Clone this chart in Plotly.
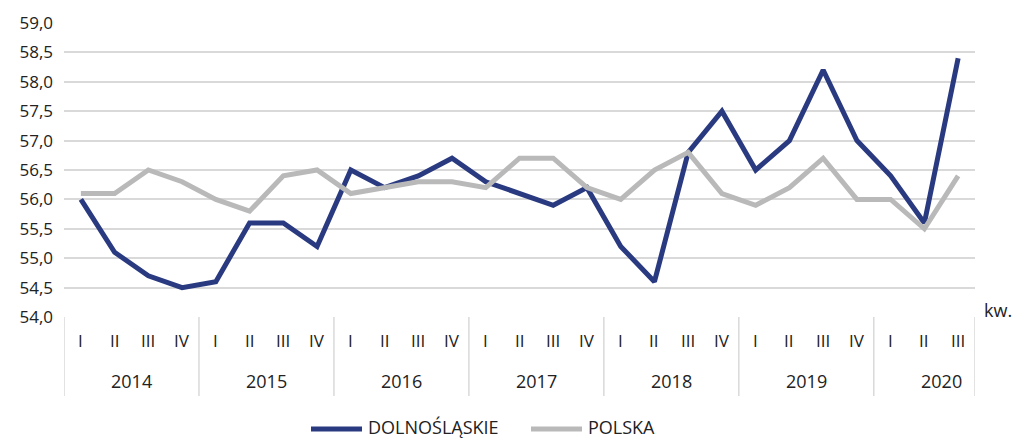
import plotly.graph_objects as go

years = ["2014", "2015", "2016", "2017", "2018", "2019", "2020"]
quarters = ["I", "II", "III", "IV"]
n_quarters = [4, 4, 4, 4, 4, 4, 3]

series_names = ["DOLNOŚLĄSKIE", "POLSKA"]
dolnoslaskie = [56.0, 55.1, 54.7, 54.5,
                54.6, 55.6, 55.6, 55.2,
                56.5, 56.2, 56.4, 56.7,
                56.3, 56.1, 55.9, 56.2,
                55.2, 54.6, 56.8, 57.5,
                56.5, 57.0, 58.2, 57.0,
                56.4, 55.6, 58.4]
polska = [56.1, 56.1, 56.5, 56.3,
          56.0, 55.8, 56.4, 56.5,
          56.1, 56.2, 56.3, 56.3,
          56.2, 56.7, 56.7, 56.2,
          56.0, 56.5, 56.8, 56.1,
          55.9, 56.2, 56.7, 56.0,
          56.0, 55.5, 56.4]

quarter_labels = []
for y, n in zip(years, n_quarters):
    quarter_labels += quarters[:n]
x = list(range(len(quarter_labels)))

FONT = "Open Sans"
TXT = "#222222"
NAVY = "#2a3a80"
GREY = "#b9b9b9"
LINEC = "#d9d9d9"

W, H = 1016, 439
ML, MR, MT, MB = 64, 41, 23, 122
PW, PH = W - ML - MR, H - MT - MB


def px2paper_x(px):
    return (px - ML) / PW


def px2paper_y(py):
    return (H - MB - py) / PH


fig = go.Figure()
fig.add_trace(go.Scatter(x=x, y=dolnoslaskie, mode="lines", name=series_names[0],
                         line=dict(color=NAVY, width=5), showlegend=False))
fig.add_trace(go.Scatter(x=x, y=polska, mode="lines", name=series_names[1],
                         line=dict(color=GREY, width=5), showlegend=False))

annotations = []
shapes = []
for i, q in enumerate(quarter_labels):
    annotations.append(dict(x=i, y=px2paper_y(340), xref="x", yref="paper", text=q,
                            showarrow=False, font=dict(family=FONT, size=17, color=TXT),
                            xanchor="center", yanchor="middle"))
start = 0
bounds = [-0.5]
for y, n in zip(years, n_quarters):
    center = start + (4 - 1) / 2
    annotations.append(dict(x=center, y=px2paper_y(381), xref="x", yref="paper", text=y,
                            showarrow=False, font=dict(family=FONT, size=18, color=TXT),
                            xanchor="center", yanchor="middle"))
    start += n
    bounds.append(start - 0.5)
for b in bounds:
    shapes.append(dict(type="line", xref="x", yref="paper", x0=b, x1=b, y0=0,
                       y1=px2paper_y(396), line=dict(color=LINEC, width=1.5)))

annotations.append(dict(x=px2paper_x(982), y=px2paper_y(310), xref="paper", yref="paper",
                        text="kw.", showarrow=False,
                        font=dict(family=FONT, size=18, color=TXT),
                        xanchor="left", yanchor="middle"))

# legend drawn manually
legend_y = 427
legend_items = [(series_names[0], NAVY, 311, 362), (series_names[1], GREY, 531, 582)]
for name, col, x0, x1 in legend_items:
    shapes.append(dict(type="line", xref="paper", yref="paper",
                       x0=px2paper_x(x0), x1=px2paper_x(x1),
                       y0=px2paper_y(legend_y + 2), y1=px2paper_y(legend_y + 2),
                       line=dict(color=col, width=5)))
    annotations.append(dict(x=px2paper_x(x1 + 4), y=px2paper_y(legend_y), xref="paper",
                            yref="paper", text=name, showarrow=False,
                            font=dict(family=FONT, size=18, color=TXT),
                            xanchor="left", yanchor="middle"))

fig.update_layout(
    width=W, height=H,
    margin=dict(l=ML, r=MR, t=MT, b=MB),
    paper_bgcolor="white", plot_bgcolor="white",
    separators=", ",
    font=dict(family=FONT, size=17, color=TXT),
    showlegend=False,
    xaxis=dict(range=[-0.5, len(x) - 0.5], showticklabels=False, showgrid=False,
               zeroline=False, showline=False, ticks="", automargin=False),
    yaxis=dict(range=[54, 59], dtick=0.5, tickformat=".1f", showgrid=True,
               gridcolor=LINEC, gridwidth=1.5, zeroline=False, showline=False,
               ticks="", tickfont=dict(family=FONT, size=17, color=TXT),
               ticklabelstandoff=10, automargin=False),
    annotations=annotations,
    shapes=shapes,
)

fig.write_html("out.html", config={"displayModeBar": False},
               post_script="document.body.style.margin='0';")
